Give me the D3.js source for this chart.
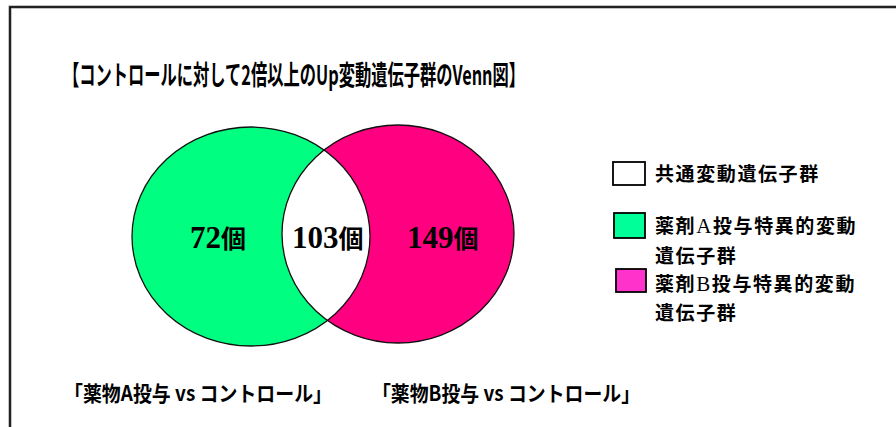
<!DOCTYPE html>
<html>
<head>
<meta charset="utf-8">
<script src="https://cdn.jsdelivr.net/npm/d3@7"></script>
<style>
  html, body { margin: 0; padding: 0; background: #fff; }
  svg { display: block; }
</style>
</head>
<body>
<svg id="chart" width="896" height="427"></svg>
<script>
// Gene counts per Venn region
const regionNames = ["薬剤A特異的", "共通", "薬剤B特異的"];
const regionCounts = [72, 103, 149];
const countUnit = "個";

// Set captions under each circle
const setCaptions = ["「薬物A投与 vs コントロール」", "「薬物B投与 vs コントロール」"];

// Legend entries, one array of text pieces per line
const legendLines = [
  [["共通変動遺伝子群"]],
  [["薬剤", "A", "投与特異的変動"], ["遺伝子群"]],
  [["薬剤", "B", "投与特異的変動"], ["遺伝子群"]]
];

const titleText = "【コントロールに対して2倍以上のUp変動遺伝子群のVenn図】";

const W = 896, H = 427;
const svg = d3.select("#chart");
const jp = "'Noto Sans CJK JP', 'Noto Sans', sans-serif";
const serif = "'Liberation Serif', 'DejaVu Serif', serif";

// Frame lines (top and left)
const frame = svg.append("g");
frame.append("path")
  .attr("d", d3.line()([[10, H], [10, 7], [W, 7]]))
  .attr("fill", "none").attr("stroke", "#888").attr("stroke-width", 3);
frame.append("path")
  .attr("d", d3.line()([[10, H], [10, 7], [W, 7]]))
  .attr("fill", "none").attr("stroke", "#000").attr("stroke-width", 1.5);

// Title
svg.append("text")
  .attr("x", 63).attr("y", 85)
  .attr("font-family", jp).attr("font-weight", "bold")
  .attr("font-size", 27)
  .attr("textLength", 462).attr("lengthAdjust", "spacingAndGlyphs")
  .attr("fill", "#000")
  .text(titleText);

// Venn ellipses
const ellipses = [
  { cx: 251, cy: 236.5, rx: 119, ry: 109.5, fill: "#00FF80" },
  { cx: 398, cy: 234, rx: 116, ry: 109, fill: "#FF0080" }
];
const defs = svg.append("defs");
defs.append("clipPath").attr("id", "clipA")
  .append("ellipse")
  .attr("cx", ellipses[0].cx).attr("cy", ellipses[0].cy)
  .attr("rx", ellipses[0].rx).attr("ry", ellipses[0].ry);

const venn = svg.append("g");
venn.selectAll("ellipse.fill").data(ellipses).join("ellipse")
  .attr("class", "fill")
  .attr("cx", d => d.cx).attr("cy", d => d.cy)
  .attr("rx", d => d.rx).attr("ry", d => d.ry)
  .attr("fill", d => d.fill);
// Intersection (shared genes) in white
venn.append("ellipse")
  .attr("cx", ellipses[1].cx).attr("cy", ellipses[1].cy)
  .attr("rx", ellipses[1].rx).attr("ry", ellipses[1].ry)
  .attr("fill", "#fff").attr("clip-path", "url(#clipA)");
venn.selectAll("ellipse.edge").data(ellipses).join("ellipse")
  .attr("class", "edge")
  .attr("cx", d => d.cx).attr("cy", d => d.cy)
  .attr("rx", d => d.rx).attr("ry", d => d.ry)
  .attr("fill", "none").attr("stroke", "#111").attr("stroke-width", 1.3);

// Region count labels
const labelX = [190, 292, 407];
const counts = svg.append("g");
regionCounts.forEach((c, i) => {
  const t = counts.append("text")
    .attr("x", labelX[i]).attr("y", 248)
    .attr("fill", "#000").attr("font-weight", "bold");
  t.append("tspan").attr("font-family", serif).attr("font-size", 31).text(c);
  t.append("tspan").attr("font-family", jp).attr("font-size", 25).text(countUnit);
});

// Legend
const legendItems = [
  { box: [613, 162, 32, 23], fill: "#fff", y: [181] },
  { box: [614, 213, 31, 25], fill: "#00FF99", y: [233, 263] },
  { box: [616, 269, 30, 23], fill: "#FF33CC", y: [291, 320] }
];
const legend = svg.append("g");
legendItems.forEach((it, i) => {
  legend.append("rect")
    .attr("x", it.box[0]).attr("y", it.box[1])
    .attr("width", it.box[2]).attr("height", it.box[3])
    .attr("fill", it.fill).attr("stroke", "#000").attr("stroke-width", 1.8);
  legendLines[i].forEach((parts, j) => {
    const t = legend.append("text")
      .attr("x", 655).attr("y", it.y[j])
      .attr("font-size", 19).attr("font-weight", "bold")
      .attr("letter-spacing", 1.6)
      .attr("fill", "#000");
    parts.forEach(p => {
      const latin = /^[A-Z]$/.test(p);
      t.append("tspan")
        .attr("font-family", latin ? serif : jp)
        .attr("font-weight", latin ? "normal" : "bold")
        .attr("font-size", latin ? 21 : 19)
        .text(p);
    });
  });
});

// Set captions
const captionX = [64, 372];
svg.append("g").selectAll("text").data(setCaptions).join("text")
  .attr("x", (d, i) => captionX[i]).attr("y", 401)
  .attr("font-family", jp).attr("font-weight", "bold").attr("font-size", 21)
  .attr("textLength", 268).attr("lengthAdjust", "spacingAndGlyphs")
  .attr("fill", "#000")
  .text(d => d);
</script>
</body>
</html>
